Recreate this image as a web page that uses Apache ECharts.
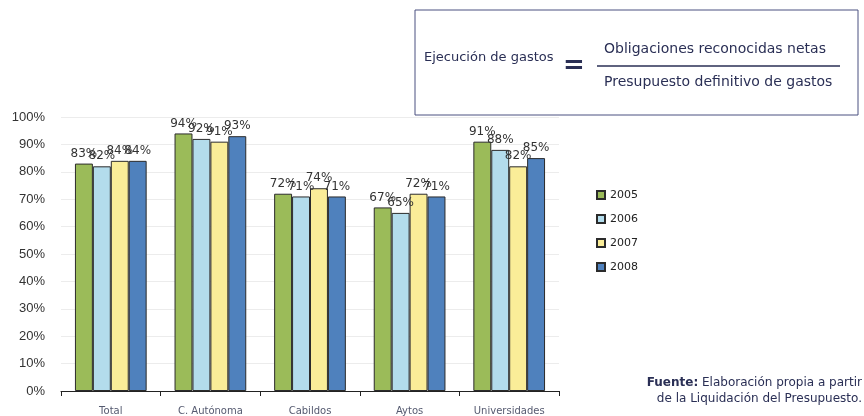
<!DOCTYPE html>
<html>
<head>
<meta charset="utf-8">
<script src="https://cdn.jsdelivr.net/npm/echarts@6/dist/echarts.min.js"></script>
<style>
  html, body { margin: 0; padding: 0; background: #fff; }
  #chart { width: 864px; height: 416px; }
</style>
</head>
<body>
<div id="chart"></div>
<script>
var categorias = ['Total', 'C. Autónoma', 'Cabildos', 'Aytos', 'Universidades'];
var anios = ['2005', '2006', '2007', '2008'];
var v2005 = [83, 94, 72, 67, 91];
var v2006 = [82, 92, 71, 65, 88];
var v2007 = [84, 91, 74, 72, 82];
var v2008 = [84, 93, 71, 71, 85];
var colores = ['#9BBB59', '#B3DCEC', '#FAED98', '#4F81BD'];

var dom = document.getElementById('chart');
var myChart = echarts.init(dom, null, { renderer: 'canvas' });

var fuente = 'DejaVu Sans, Verdana, sans-serif';
var textoAzul = '#2a2f55';

function serie(idx, datos) {
  return {
    name: anios[idx],
    type: 'bar',
    barGap: '0%',
    barCategoryGap: '28%',
    itemStyle: { color: colores[idx], borderColor: '#2b2b2b', borderWidth: 1 },
    label: {
      show: true,
      position: 'top',
      distance: 4,
      formatter: '{c}%',
      fontFamily: fuente,
      fontSize: 12,
      color: '#333'
    },
    data: datos
  };
}

var option = {
  animation: false,
  grid: { left: 61, right: 305, top: 117, bottom: 25 },
  legend: {
    orient: 'vertical',
    left: 591,
    top: 184,
    itemWidth: 8,
    itemHeight: 8,
    itemGap: 12,
    icon: 'rect',
    textStyle: { fontSize: 11, lineHeight: 12, color: '#222', fontFamily: fuente },
    data: anios
  },
  xAxis: {
    type: 'category',
    data: categorias,
    axisLine: { lineStyle: { color: '#222', width: 1 } },
    axisTick: { show: true, length: 5, inside: false, lineStyle: { color: '#222' } },
    axisLabel: { fontSize: 10, color: '#555a70', margin: 15, fontFamily: fuente }
  },
  yAxis: {
    type: 'value',
    min: 0,
    max: 100,
    interval: 10,
    axisLine: { show: false },
    axisTick: { show: false },
    axisLabel: { formatter: '{value}%', fontSize: 13, color: '#333', margin: 16, fontFamily: 'Liberation Sans, Arial, sans-serif' },
    splitLine: { lineStyle: { color: '#ececec' } }
  },
  graphic: [
    {
      type: 'rect',
      shape: { x: 415, y: 10, width: 443, height: 105 },
      style: { fill: '#fff', stroke: '#4a5080', lineWidth: 1 }
    },
    {
      type: 'text',
      x: 424, y: 58,
      style: { text: 'Ejecución de gastos', fontSize: 13, fill: textoAzul, verticalAlign: 'middle', fontFamily: fuente }
    },
    {
      type: 'text',
      x: 574, y: 66,
      style: { text: '=', fontSize: 26, fontWeight: 'bold', fill: textoAzul, textAlign: 'center', verticalAlign: 'middle', fontFamily: fuente }
    },
    {
      type: 'line',
      shape: { x1: 597, y1: 66, x2: 840, y2: 66 },
      style: { stroke: textoAzul, lineWidth: 1.5 }
    },
    {
      type: 'text',
      x: 604, y: 49,
      style: { text: 'Obligaciones reconocidas netas', fontSize: 14, fill: textoAzul, verticalAlign: 'middle', fontFamily: fuente }
    },
    {
      type: 'text',
      x: 604, y: 82,
      style: { text: 'Presupuesto definitivo de gastos', fontSize: 14, fill: textoAzul, verticalAlign: 'middle', fontFamily: fuente }
    },
    {
      type: 'text',
      x: 862, y: 383,
      style: {
        text: '{b|Fuente:} Elaboración propia a partir',
        textAlign: 'right', verticalAlign: 'middle',
        fontSize: 12, fill: textoAzul, fontFamily: fuente,
        rich: { b: { fontWeight: 'bold', fontSize: 12, fill: textoAzul, fontFamily: fuente } }
      }
    },
    {
      type: 'text',
      x: 862, y: 399,
      style: { text: 'de la Liquidación del Presupuesto.', textAlign: 'right', verticalAlign: 'middle', fontSize: 12, fill: textoAzul, fontFamily: fuente }
    }
  ],
  series: [
    serie(0, v2005),
    serie(1, v2006),
    serie(2, v2007),
    serie(3, v2008)
  ]
};

myChart.setOption(option);
window.addEventListener('resize', myChart.resize);
</script>
</body>
</html>
